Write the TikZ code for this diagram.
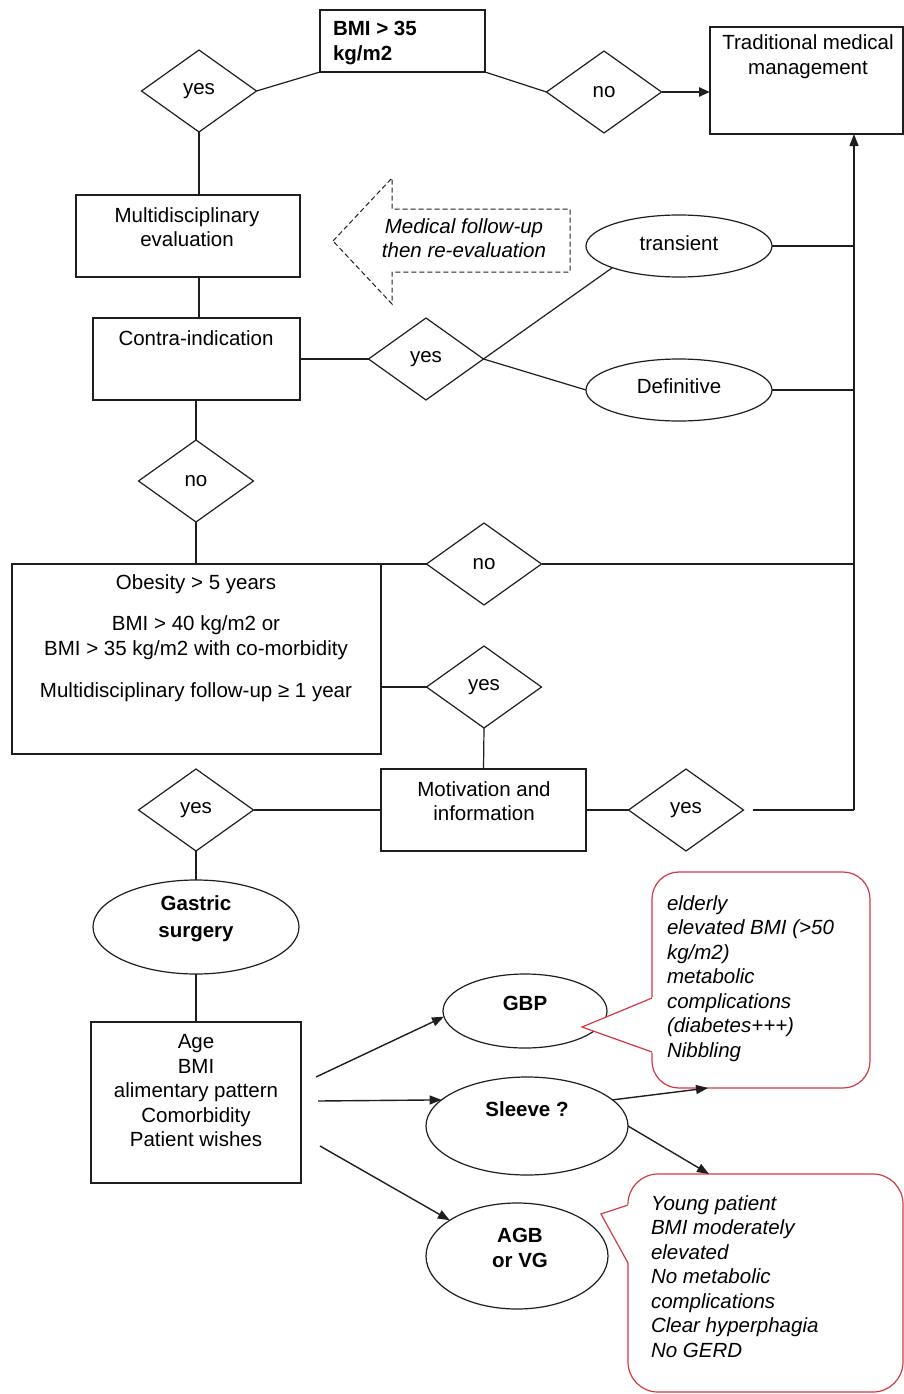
\documentclass[tikz,border=0pt]{standalone}
\usepackage{fontspec}
\setmainfont{Liberation Sans}
\usetikzlibrary{shapes.geometric,arrows.meta,calc}
\definecolor{ln}{RGB}{30,30,30}
\definecolor{cred}{RGB}{212,56,70}
\begin{document}
\begin{tikzpicture}[x=1pt,y=-1pt,
  font=\fontsize{20.5}{24.5}\selectfont,
  every node/.style={inner sep=0pt, outer sep=0pt},
  txt/.style={align=center, text=black},
  box/.style={draw=ln, line width=1.2pt, rectangle},
  dia/.style={draw=ln, line width=1.2pt, diamond, minimum width=115pt, minimum height=82pt},
  ell/.style={draw=ln, line width=1.2pt, ellipse},
  conn/.style={draw=ln, line width=1.2pt},
  arr/.style={conn, line width=1.4pt, -{Triangle[length=12pt,width=9pt]}},
  callout/.style={draw=cred, line width=1.2pt}
]
\fill[white] (0,0) rectangle (903,1394);
\useasboundingbox (0,0) rectangle (903,1394);

% ---------- boxes ----------
\node[box, minimum width=165pt, minimum height=62pt] (bmi) at (402.5,41) {};
\node[txt, anchor=west, align=left, font=\fontsize{20.5}{25}\selectfont\bfseries] (bmit) at (333,43) {BMI > 35\\kg/m2};
\node[box, minimum width=193pt, minimum height=107pt] (trad) at (806.5,80.5) {};
\node[txt] (tradt) at (808,56.5) {Traditional medical\\management};
\node[box, minimum width=224pt, minimum height=82pt] (multi) at (188,236) {};
\node[txt] (multit) at (187,227) {Multidisciplinary\\evaluation};
\node[box, minimum width=207pt, minimum height=82pt] (contra) at (196.5,359) {};
\node[txt] (contrat) at (196,338) {Contra-indication};
\node[box, minimum width=369pt, minimum height=190pt] (big) at (196.5,659) {};
\node[txt] (bigt1) at (196,584) {Obesity > 5 years};
\node[txt] (bigt2) at (196,637.5) {BMI > 40 kg/m2 or\\BMI > 35 kg/m2 with co-morbidity};
\node[txt] (bigt3) at (196,692) {Multidisciplinary follow-up ≥ 1 year};
\node[box, minimum width=205pt, minimum height=82pt] (motiv) at (483.5,810) {};
\node[txt] (motivt) at (484,801) {Motivation and\\information};
\node[box, minimum width=210pt, minimum height=161pt] (age) at (196,1102.5) {};
\node[txt] (aget) at (196,1091) {Age\\BMI\\alimentary pattern\\Comorbidity\\Patient wishes};

% ---------- diamonds ----------
\node[dia] (d1) at (199,91) {yes};
\node[dia] (d2) at (604,92) {no};
\node[dia] (d3) at (426,359) {yes};
\node[dia] (d4) at (196,481) {no};
\node[dia] (d5) at (484,564) {no};
\node[dia] (d6) at (484,687) {yes};
\node[dia] (d7) at (196,810) {yes};
\node[dia] (d8) at (686,810) {yes};

% ---------- ellipses ----------
\node[ell, minimum width=186pt, minimum height=62pt] (trans) at (679,246) {};
\node[txt] (transt) at (679,243) {transient};
\node[ell, minimum width=186pt, minimum height=62pt] (defin) at (679,390) {};
\node[txt] (defint) at (679,386) {Definitive};
\node[ell, minimum width=206pt, minimum height=94pt] (gastric) at (196,927) {};
\node[txt, font=\fontsize{20.5}{27}\selectfont\bfseries] (gastrict) at (196,918.5) {Gastric\\surgery};
\node[ell, minimum width=164pt, minimum height=74pt] (gbp) at (525,1011) {};
\node[txt, font=\fontsize{20.5}{24.5}\selectfont\bfseries] (gbpt) at (525,1003) {GBP};
\node[ell, minimum width=202pt, minimum height=98pt] (sleeve) at (527,1126) {};
\node[txt, font=\fontsize{20.5}{24.5}\selectfont\bfseries] (sleevet) at (527,1109) {Sleeve ?};
\node[ell, minimum width=182pt, minimum height=106pt] (agb) at (517,1256) {};
\node[txt, font=\fontsize{20.5}{25}\selectfont\bfseries] (agbt) at (520,1247.5) {AGB\\or VG};

% ---------- dashed arrow ----------
\draw[ln, line width=1pt, dash pattern=on 5pt off 3pt]
  (333,241) -- (392,178) -- (392,209) -- (570,209) -- (570,272) -- (392,272) -- (392,304) -- cycle;
\node[txt, font=\fontsize{20.5}{24}\selectfont\itshape] (follow) at (464,238.5) {Medical follow-up\\then re-evaluation};

% ---------- callouts ----------
\draw[callout, rounded corners=27pt] (652,872) rectangle (870,1088);
\fill[white] (653.3,997) -- (582,1027) -- (653.3,1053) -- cycle;
\draw[callout] (652,998) -- (582,1027) -- (652,1052);
\node[txt, anchor=west, align=left, font=\fontsize{20.5}{24.5}\selectfont\itshape] (call1) at (667,978.5)
  {elderly\\elevated BMI (>50\\kg/m2)\\metabolic\\complications\\(diabetes+++)\\Nibbling};
\draw[callout, rounded corners=30pt] (628,1174) rectangle (903,1392);
\fill[white] (629.3,1204) -- (601,1214) -- (629.3,1264) -- cycle;
\draw[callout] (628,1205) -- (601,1214) -- (628,1263);
\node[txt, anchor=west, align=left, font=\fontsize{20.5}{24.5}\selectfont\itshape] (call2) at (651,1276.5)
  {Young patient\\BMI moderately\\elevated\\No metabolic\\complications\\Clear hyperphagia\\No GERD};

% ---------- connectors ----------
\draw[conn] (bmi.south west) -- (d1.east);
\draw[conn] (bmi.south east) -- (d2.west);
\draw[conn, line width=2.4pt, -{Triangle[length=11pt,width=9pt]}] (d2.east) -- (d2.east -| trad.west);
\draw[conn] (d1.south) -- (d1.south |- multi.north);
\draw[conn] (d1.south |- multi.south) -- (d1.south |- contra.north);
\draw[conn] (contra.east) -- (d3.west);
\draw[conn] (d3.east) -- (trans.198);
\draw[conn] (d3.east) -- (defin.west);
\draw[conn] (d4.north) -- (d4.north |- contra.south);
\draw[conn] (d4.south) -- (d4.south |- big.north);
\draw[conn] (big.north east) -- (d5.west);
\draw[conn] (d6.west -| big.east) -- (d6.west);
\draw[conn] (d6.south) -- (motiv.north);
\draw[conn] (d7.east) -- (motiv.west);
\draw[conn] (motiv.east) -- (d8.west);
\coordinate (vb) at (854,810);
\draw[conn] ([xshift=9pt]d8.east) -- (vb);
\draw[conn, -{Triangle[length=12pt,width=9pt]}] (vb) -- (vb |- trad.south);
\draw[conn] (trans.east) -- (trans.east -| vb);
\draw[conn] (defin.east) -- (defin.east -| vb);
\draw[conn] (d5.east) -- (d5.east -| vb);
\draw[conn] (d7.south) -- (gastric.north);
\draw[conn] (gastric.south) -- (age.north);

\coordinate (s1) at (316,1077);
\coordinate (s2) at (318,1101);
\coordinate (s3) at (320,1146);
\draw[arr] (s1) -- (gbp.184);
\draw[arr] (s2) -- (sleeve.163);
\draw[arr] (s3) -- (agb.152);
\coordinate (c1) at (708,1088);
\coordinate (c2) at (709,1174);
\draw[arr] (sleeve.17) -- (c1);
\draw[arr] (sleeve.east) -- (c2);
\end{tikzpicture}
\end{document}
